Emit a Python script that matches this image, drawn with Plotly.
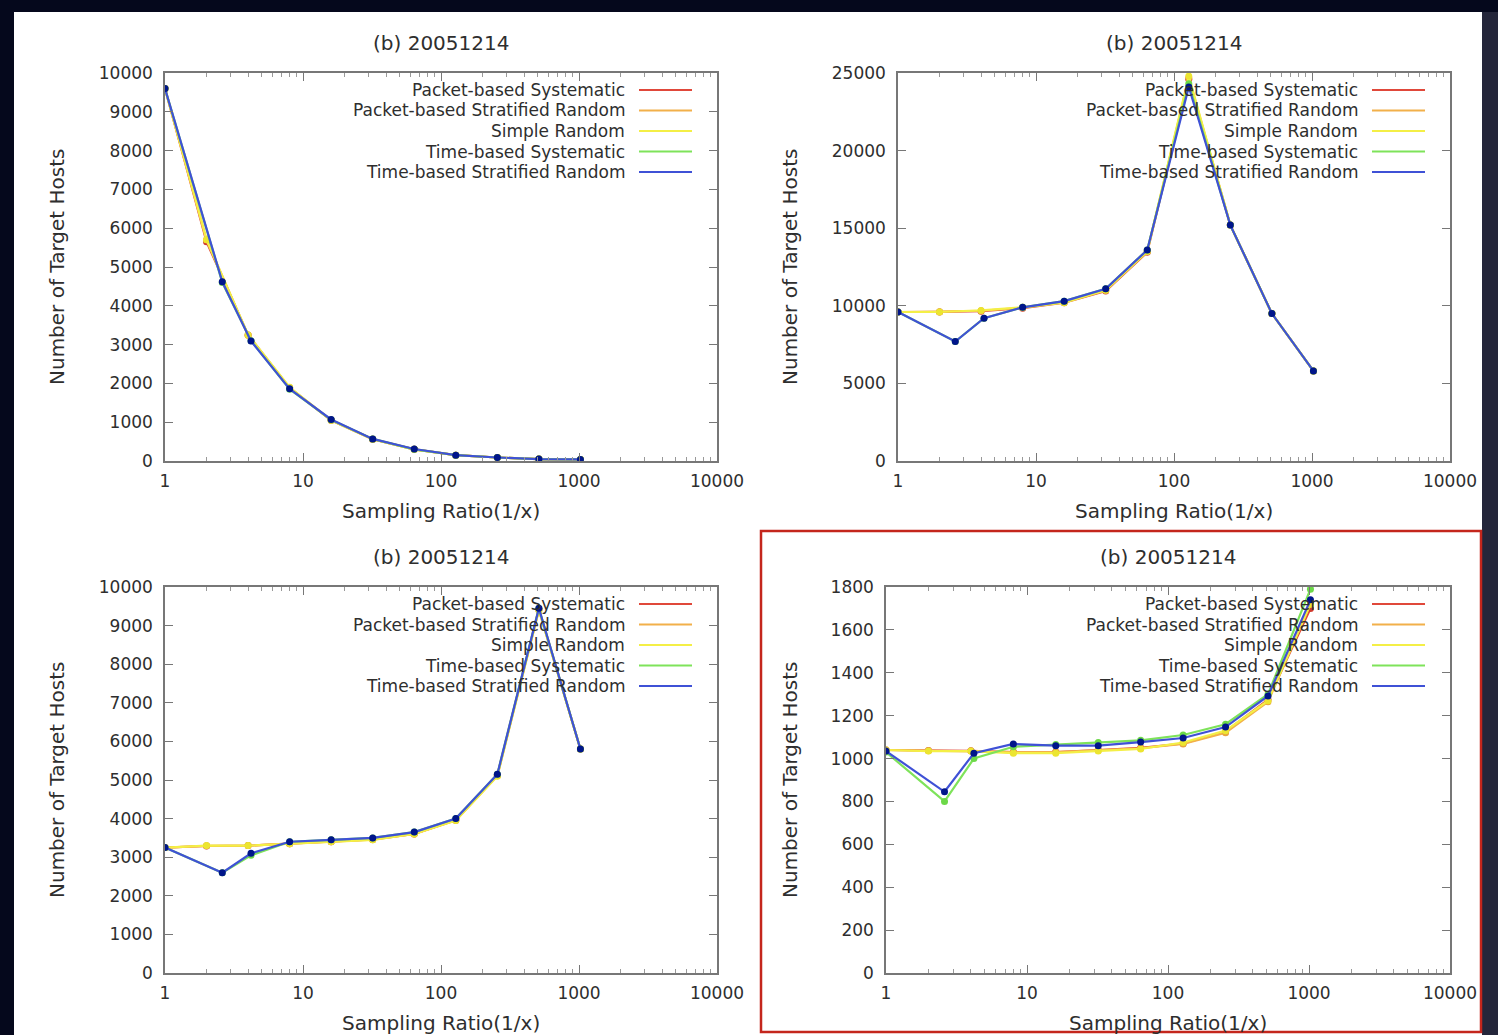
import plotly.graph_objects as go

# ---------------- data ----------------
x_packet = [1, 2, 4, 8, 16, 32, 64, 128, 256, 512, 1024]
x_time = [1, 2.6, 4.2, 8, 16, 32, 64, 128, 256, 512, 1024]

series_names = [
    "Packet-based Systematic",
    "Packet-based Stratified Random",
    "Simple Random",
    "Time-based Systematic",
    "Time-based Stratified Random",
]

# panel 1 (top-left)
p1_pkt_sys = [9600, 5650, 3250, 1880, 1050, 560, 300, 150, 90, 50, 40]
p1_pkt_str = [9600, 5700, 3240, 1890, 1050, 560, 300, 150, 90, 50, 40]
p1_simple = [9600, 5700, 3250, 1900, 1050, 560, 300, 150, 90, 50, 40]
p1_time_sys = [9600, 4600, 3100, 1850, 1060, 570, 300, 150, 90, 50, 40]
p1_time_str = [9600, 4620, 3090, 1860, 1070, 570, 310, 150, 90, 50, 40]

# panel 2 (top-right)
p2_pkt_sys = [9600, 9600, 9650, 9850, 10200, 10950, 13450, 24600, 15200, 9500, 5800]
p2_pkt_str = [9600, 9620, 9680, 9880, 10250, 11000, 13500, 24700, 15200, 9500, 5800]
p2_simple = [9600, 9600, 9700, 9900, 10200, 11000, 13500, 24800, 15200, 9500, 5800]
p2_time_sys = [9600, 7700, 9200, 9900, 10300, 11100, 13600, 24300, 15200, 9500, 5800]
p2_time_str = [9600, 7700, 9200, 9900, 10300, 11100, 13600, 24100, 15200, 9500, 5800]

# panel 3 (bottom-left)
p3_pkt_sys = [3250, 3290, 3300, 3350, 3400, 3460, 3600, 3960, 5120, 9420, 5800]
p3_pkt_str = [3250, 3295, 3300, 3350, 3400, 3455, 3600, 3955, 5110, 9410, 5800]
p3_simple = [3250, 3300, 3300, 3350, 3400, 3450, 3600, 3950, 5100, 9400, 5800]
p3_time_sys = [3250, 2600, 3050, 3400, 3450, 3500, 3650, 4000, 5150, 9450, 5800]
p3_time_str = [3250, 2600, 3100, 3400, 3450, 3500, 3650, 4000, 5150, 9450, 5800]

# panel 4 (bottom-right)
p4_pkt_sys = [1040, 1038, 1036, 1030, 1030, 1040, 1050, 1070, 1125, 1275, 1700]
p4_pkt_str = [1040, 1036, 1035, 1030, 1030, 1038, 1048, 1068, 1120, 1265, 1720]
p4_simple = [1040, 1035, 1035, 1025, 1025, 1035, 1045, 1075, 1130, 1270, 1720]
p4_time_sys = [1030, 800, 1000, 1055, 1065, 1075, 1085, 1110, 1160, 1300, 1790]
p4_time_str = [1035, 845, 1025, 1068, 1060, 1060, 1077, 1096, 1147, 1292, 1740]

panel_title = "(b) 20051214"
x_title = "Sampling Ratio(1/x)"
y_title = "Number of Target Hosts"

y_ranges = [[0, 10000], [0, 25000], [0, 10000], [0, 1800]]
y_dticks = [1000, 5000, 1000, 200]
x_tickvals = [1, 10, 100, 1000, 10000]
x_ticktext = ["1", "10", "100", "1000", "10000"]
x_minor = [m * d for d in (1, 10, 100, 1000) for m in range(2, 10)]

panels = [
    [p1_pkt_sys, p1_pkt_str, p1_simple, p1_time_sys, p1_time_str],
    [p2_pkt_sys, p2_pkt_str, p2_simple, p2_time_sys, p2_time_str],
    [p3_pkt_sys, p3_pkt_str, p3_simple, p3_time_sys, p3_time_str],
    [p4_pkt_sys, p4_pkt_str, p4_simple, p4_time_sys, p4_time_str],
]
series_x = [x_packet, x_packet, x_packet, x_time, x_time]

# ---------------- style ----------------
W, H = 1498, 1035
line_colors = ["#e0483a", "#f2b04a", "#f4ef46", "#7ee35a", "#3f51d6"]
marker_colors = ["#d03a2e", "#e8a53e", "#ece530", "#6cd848", "#00158a"]
FONT = "DejaVu Sans, Liberation Sans, Arial"
TXT = "#2e2e2e"

# plot-area pixel boxes (left, right, top, bottom)
boxes = [
    (165, 717, 73, 461),
    (898, 1450, 73, 461),
    (165, 717, 587, 973),
    (886, 1450, 587, 973),
]


def fx(px):
    return px / W


def fy(py):
    return 1 - py / H


fig = go.Figure()

layout = dict(
    width=W,
    height=H,
    margin=dict(l=0, r=0, t=0, b=0, pad=0, autoexpand=False),
    paper_bgcolor="#05081c",
    plot_bgcolor="white",
    showlegend=False,
    font=dict(family=FONT, color=TXT),
)

shapes = []
annotations = []

# white slide panel and side strip
shapes.append(dict(type="rect", xref="paper", yref="paper", x0=fx(1482), x1=1, y0=0, y1=fy(12),
                   fillcolor="#24263a", line=dict(width=0), layer="below"))
shapes.append(dict(type="rect", xref="paper", yref="paper", x0=fx(14), x1=fx(1482), y0=0, y1=fy(12),
                   fillcolor="white", line=dict(width=0), layer="below"))

for i, (box, vals) in enumerate(zip(boxes, panels)):
    n = "" if i == 0 else str(i + 1)
    xa, ya = "x" + n, "y" + n
    l, r, t, b = box
    for k in range(5):
        fig.add_trace(go.Scatter(
            x=series_x[k], y=vals[k], mode="lines+markers",
            name=series_names[k], xaxis=xa, yaxis=ya,
            line=dict(color=line_colors[k], width=2.2),
            marker=dict(color=marker_colors[k], size=7, symbol="circle"),
            showlegend=False,
        ))
    layout["xaxis" + n] = dict(
        type="log", range=[0, 4], domain=[fx(l), fx(r)], anchor=ya,
        tickvals=x_tickvals, ticktext=x_ticktext, ticks="inside", ticklen=8,
        tickcolor="#777", tickwidth=1.2, ticklabelstandoff=4,
        minor=dict(tickvals=x_minor, ticks="inside", ticklen=4, tickcolor="#999", tickwidth=1),
        showline=True, linecolor="#777", linewidth=1.5, mirror="allticks",
        showgrid=False, zeroline=False, automargin=False,
        tickfont=dict(family=FONT, size=17, color=TXT),
    )
    layout["yaxis" + n] = dict(
        range=y_ranges[i], dtick=y_dticks[i], tickformat="d", domain=[fy(b), fy(t)], anchor=xa,
        ticks="inside", ticklen=8, tickcolor="#777", tickwidth=1.2, ticklabelstandoff=7,
        showline=True, linecolor="#777", linewidth=1.5, mirror="allticks",
        showgrid=False, zeroline=False, automargin=False,
        tickfont=dict(family=FONT, size=17, color=TXT),
    )
    cx = (l + r) / 2
    annotations.append(dict(text=panel_title, xref="paper", yref="paper", x=fx(cx), y=fy(t - 30),
                            showarrow=False, font=dict(family=FONT, size=20, color=TXT),
                            xanchor="center", yanchor="middle"))
    annotations.append(dict(text=x_title, xref="paper", yref="paper", x=fx(cx), y=fy(b + 50),
                            showarrow=False, font=dict(family=FONT, size=20, color=TXT),
                            xanchor="center", yanchor="middle"))
    annotations.append(dict(text=y_title, xref="paper", yref="paper", x=fx(l - 108 if i != 3 else l - 96),
                            y=fy((t + b) / 2), textangle=-90,
                            showarrow=False, font=dict(family=FONT, size=20, color=TXT),
                            xanchor="center", yanchor="middle"))
    # key (gnuplot style: right-aligned text, sample line on the right)
    for k in range(5):
        ry = t + 17 + k * 20.5
        annotations.append(dict(text=series_names[k], xref="paper", yref="paper",
                                x=fx(r - 90), y=fy(ry), xanchor="right", yanchor="middle",
                                showarrow=False, font=dict(family=FONT, size=17, color=TXT)))
        shapes.append(dict(type="line", xref="paper", yref="paper",
                           x0=fx(r - 78), x1=fx(r - 25), y0=fy(ry), y1=fy(ry),
                           line=dict(color=line_colors[k], width=2.2)))

# red highlight frame around bottom-right panel
shapes.append(dict(type="rect", xref="paper", yref="paper", x0=fx(761), x1=fx(1481), y0=fy(1032), y1=fy(531),
                   line=dict(color="#c4261c", width=2.5), fillcolor="rgba(0,0,0,0)"))

layout["shapes"] = shapes
layout["annotations"] = annotations
fig.update_layout(**layout)
fig.write_html(
    "out.html",
    post_script="document.body.style.margin='0';document.body.style.overflow='hidden';",
)
